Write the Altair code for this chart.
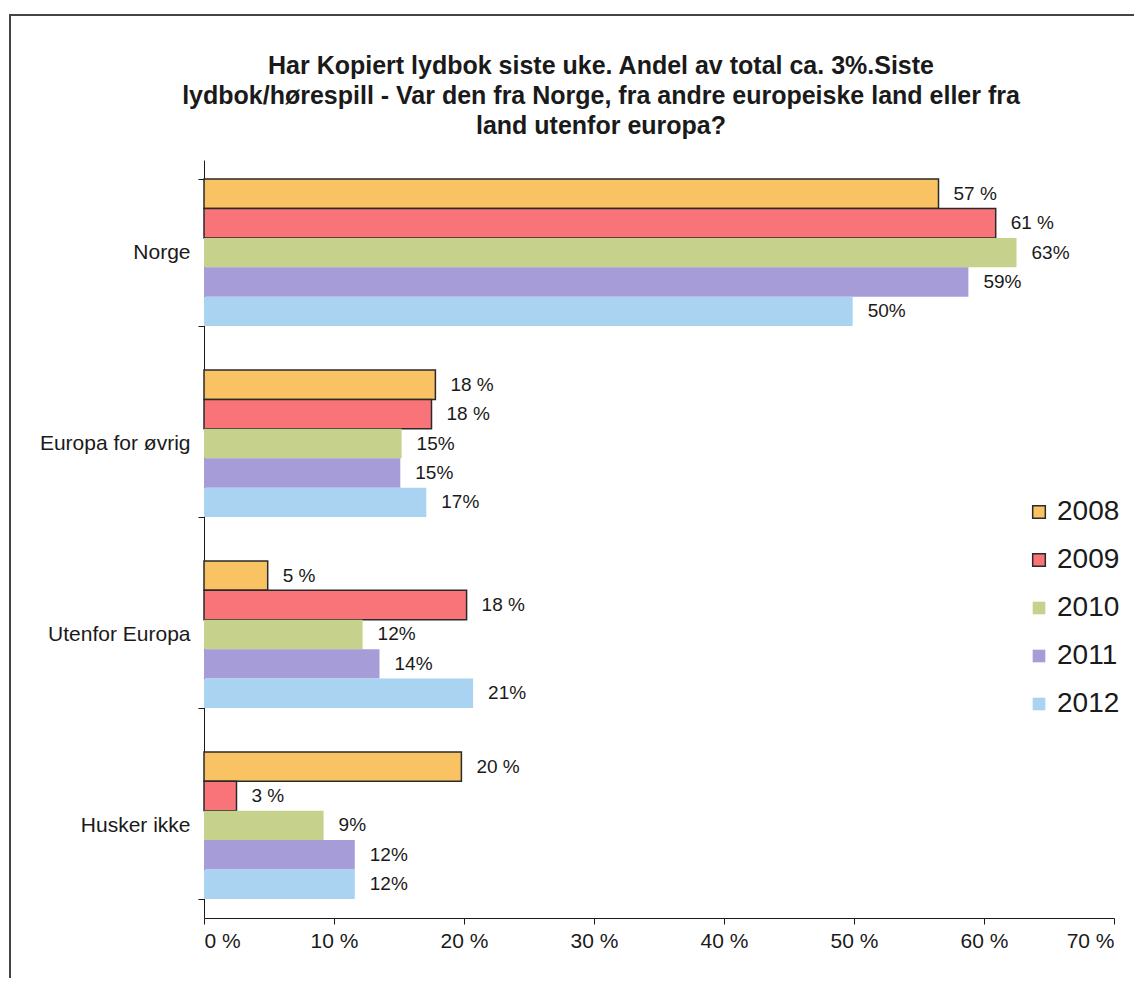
import altair as alt
import pandas as pd

categories = ["Norge", "Europa for øvrig", "Utenfor Europa", "Husker ikke"]
years = ["2008", "2009", "2010", "2011", "2012"]
values = {
    "2008": [56.5, 17.8, 4.9, 19.8],
    "2009": [60.9, 17.5, 20.2, 2.5],
    "2010": [62.5, 15.2, 12.2, 9.2],
    "2011": [58.8, 15.1, 13.5, 11.6],
    "2012": [49.9, 17.1, 20.7, 11.6],
}
labels = {
    "2008": ["57 %", "18 %", "5 %", "20 %"],
    "2009": ["61 %", "18 %", "18 %", "3 %"],
    "2010": ["63%", "15%", "12%", "9%"],
    "2011": ["59%", "15%", "14%", "12%"],
    "2012": ["50%", "17%", "21%", "12%"],
}
colors = ["#F9C363", "#F87478", "#C6D28C", "#A59CD8", "#A9D3F1"]
strokes = ["#2a2a2a", "#2a2a2a", "transparent", "transparent", "transparent"]

rows = []
for y in years:
    for i, c in enumerate(categories):
        rows.append({"cat": c, "year": y, "value": values[y][i] / 100, "label": labels[y][i]})
df = pd.DataFrame(rows)

FONT = "Liberation Sans"
INK = "#1a1a1a"

legend_kw = dict(orient="none", legendX=821, legendY=338,
                 labelFontSize=28, labelFont=FONT, labelColor=INK,
                 symbolType="square", symbolSize=160,
                 symbolStrokeWidth=1.5, rowPadding=20, labelOffset=4)

base = alt.Chart(df).encode(
    y=alt.Y("cat:N", sort=categories, title=None,
            scale=alt.Scale(paddingInner=0.23, paddingOuter=0.1),
            axis=alt.Axis(tickBand="extent", labelFontSize=21, labelColor=INK,
                          labelPadding=8, tickSize=6, domainColor=INK, tickColor=INK,
                          labelFont=FONT)),
    yOffset=alt.YOffset("year:N", sort=years),
)

bars = base.mark_bar(strokeWidth=1.5).encode(
    x=alt.X("value:Q", title=None,
            scale=alt.Scale(domain=[0, 0.7]),
            axis=alt.Axis(values=[0, 0.1, 0.2, 0.3, 0.4, 0.5, 0.6, 0.7], grid=False,
                          labelExpr="round(datum.value*100) + ' %'",
                          labelFontSize=21, labelColor=INK, labelFont=FONT,
                          tickSize=6, labelPadding=6, domainColor=INK, tickColor=INK)),
    color=alt.Color("year:N", sort=years, title=None,
                    scale=alt.Scale(domain=years, range=colors),
                    legend=alt.Legend(**legend_kw)),
    stroke=alt.Stroke("year:N", sort=years, title=None,
                      scale=alt.Scale(domain=years, range=strokes),
                      legend=alt.Legend(**legend_kw)),
)

text = base.mark_text(align="left", dx=15, fontSize=19, font=FONT, color=INK).encode(
    x=alt.X("value:Q"),
    text="label:N",
)

frame = alt.Chart(pd.DataFrame({"a": [0]})).mark_rect(
    fill=None, stroke="#444", strokeWidth=2, clip=False
).encode(
    x=alt.value(-194), x2=alt.value(1000),
    y=alt.value(-145), y2=alt.value(900),
)

chart = alt.layer(frame, bars, text).properties(
    width=910,
    height=758,
    title=alt.Title(
        ["Har Kopiert lydbok siste uke. Andel av total ca. 3%.Siste",
         "lydbok/hørespill - Var den fra Norge, fra andre europeiske land eller fra",
         "land utenfor europa?"],
        fontSize=25, font=FONT, fontWeight="bold", color=INK,
        lineHeight=30, anchor="middle", dx=-58, offset=-125,
    ),
    autosize=alt.AutoSizeParams(type="none"),
    padding={"left": 196, "top": 152, "right": 20, "bottom": 60},
).configure(background="white").configure_view(stroke=None)

chart.save("out.html", embed_options={"renderer": "svg", "actions": False})
